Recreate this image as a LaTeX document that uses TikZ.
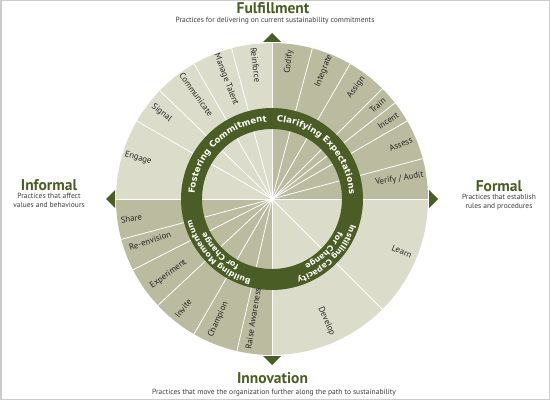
\documentclass[tikz,border=0pt]{standalone}
\usepackage{fontspec}
\setmainfont{PT Sans}
\newfontfamily\ringfont{DejaVu Sans}
\usetikzlibrary{decorations.text}

\definecolor{paleseg}{HTML}{DCDCCB}
\definecolor{darkseg}{HTML}{BBBBA0}
\definecolor{ringgreen}{HTML}{4A5D24}
\definecolor{subgray}{HTML}{3C3C3C}
\definecolor{framegray}{HTML}{CCCCCC}
\newcommand{\ringfmt}{\ringfont\bfseries\fontsize{8.6}{9}\selectfont}
\newcommand{\ringfmtsm}{\ringfont\bfseries\fontsize{7.8}{8}\selectfont}

\begin{document}
\begin{tikzpicture}[x=1pt,y=1pt]
        \tikzstyle{every node}+=[inner sep=0pt]
        \tikzstyle{seglabel}=[font=\fontsize{8.7}{10}\selectfont, text=black!85]
        \tikzstyle{spoke}=[white, line width=0.8pt]
        \tikzstyle{heading}=[font=\fontsize{15.5}{18}\selectfont\bfseries, text=ringgreen]
        \tikzstyle{subhead}=[font=\fontsize{7.5}{9}\selectfont, text=subgray, align=center]
        \tikzstyle{ringtext}=[decorate, decoration={text along path, text align=center, text color=white}]
        \useasboundingbox (0,0) rectangle (550,400);
        \draw [framegray, line width=1.5pt] (0.75,0.75) rectangle (549.25,399.25);
        % headings
        \node [heading] (fulfil) at (273,392) {Fulfillment};
        \node [subhead] (fulfilsub) at (275,379) {Practices for delivering on current sustainability commitments};
        \node [heading] (informal) at (49,215) {Informal};
        \node [subhead] (informalsub) at (49,200) {Practices that affect\\values and behaviours};
        \node [heading] (formal) at (499,214) {Formal};
        \node [subhead] (formalsub) at (499,198) {Practices that establish\\rules and procedures};
        \node [heading] (innov) at (272.5,22) {Innovation};
        \node [subhead] (innovsub) at (274,7) {Practices that move the organization further along the path to sustainability};
        \begin{scope}[shift={(272,201)}]
        % quadrants
        \fill [paleseg] (0,0) -- (90:156) arc [start angle=90, end angle=180, radius=156] -- cycle;
        \fill [darkseg] (0,0) -- (0:156) arc [start angle=0, end angle=90, radius=156] -- cycle;
        \fill [darkseg] (0,0) -- (180:156) arc [start angle=180, end angle=270, radius=156] -- cycle;
        \fill [paleseg] (0,0) -- (270:156) arc [start angle=270, end angle=360, radius=156] -- cycle;
        % dividers
        \draw [spoke] (0,0) -- (0:156);
        \draw [spoke] (0,0) -- (15:156);
        \draw [spoke] (0,0) -- (30:156);
        \draw [spoke] (0,0) -- (38:156);
        \draw [spoke] (0,0) -- (45:156);
        \draw [spoke] (0,0) -- (60:156);
        \draw [spoke] (0,0) -- (75:156);
        \draw [spoke] (0,0) -- (90:156);
        \draw [spoke] (0,0) -- (105:156);
        \draw [spoke] (0,0) -- (120:156);
        \draw [spoke] (0,0) -- (136:156);
        \draw [spoke] (0,0) -- (150:156);
        \draw [spoke] (0,0) -- (180:156);
        \draw [spoke] (0,0) -- (195:156);
        \draw [spoke] (0,0) -- (207:156);
        \draw [spoke] (0,0) -- (223:156);
        \draw [spoke] (0,0) -- (240:156);
        \draw [spoke] (0,0) -- (257:156);
        \draw [spoke] (0,0) -- (270:156);
        \draw [spoke] (0,0) -- (315:156);
        % ring
        \fill [ringgreen, even odd rule] (0,0) circle (91) (0,0) circle (70);
        \path [ringtext, decoration={text={|\ringfmt|Fostering Commitment}}] (180:77.5) arc [start angle=180, end angle=90, radius=77.5];
        \path [ringtext, decoration={text={|\ringfmt|Clarifying Expectations}}] (90:77.5) arc [start angle=90, end angle=0, radius=77.5];
        \path [ringtext, decoration={text={|\ringfmtsm|Instilling Capacity}}] (0:83) arc [start angle=0, end angle=-90, radius=83];
        \path [ringtext, decoration={text={|\ringfmtsm|for Change}}] (0:74) arc [start angle=0, end angle=-90, radius=74];
        \path [ringtext, decoration={text={|\ringfmtsm|Building Momentum}}] (270:83) arc [start angle=270, end angle=180, radius=83];
        \path [ringtext, decoration={text={|\ringfmtsm|for Change}}] (270:74) arc [start angle=270, end angle=180, radius=74];
        % pointers
        \fill [ringgreen] (-9,157) -- (0,166) -- (9,157) -- cycle;
        \fill [ringgreen] (-9,-157) -- (0,-166) -- (9,-157) -- cycle;
        \fill [ringgreen] (-157,-9) -- (-166,0) -- (-157,9) -- cycle;
        \fill [ringgreen] (157,-9) -- (166,0) -- (157,9) -- cycle;
        % practices
        \node [seglabel, rotate=-17] (engage) at (163:140) {Engage};
        \node [seglabel, rotate=-38] (signal) at (142:140) {Signal};
        \node [seglabel, rotate=-54] (communicate) at (126:129) {Communicate};
        \node [seglabel, rotate=-69] (talent) at (111:128) {Manage Talent};
        \node [seglabel, rotate=-83] (reinforce) at (97:135) {Reinforce};
        \node [seglabel, rotate=83] (codify) at (83:138) {Codify};
        \node [seglabel, rotate=68] (integrate) at (68:138) {Integrate};
        \node [seglabel, rotate=53] (assign) at (53:140) {Assign};
        \node [seglabel, rotate=41.5] (train) at (41.5:141) {Train};
        \node [seglabel, rotate=34] (incent) at (34:140) {Incent};
        \node [seglabel, rotate=23] (assess) at (23:140) {Assess};
        \node [seglabel, rotate=9] (verify) at (9:129) {Verify / Audit};
        \node [seglabel, rotate=-22] (learn) at (-22:140) {Learn};
        \node [seglabel, rotate=-66] (develop) at (-66:134) {Develop};
        \node [seglabel, rotate=81] (raise) at (261:121) {Raise Awareness};
        \node [seglabel, rotate=66] (champion) at (246:132) {Champion};
        \node [seglabel, rotate=51] (invite) at (231:141) {Invite};
        \node [seglabel, rotate=36] (experiment) at (216:128) {Experiment};
        \node [seglabel, rotate=19] (reenvision) at (199:129) {Re-envision};
        \node [seglabel, rotate=8] (share) at (188:142) {Share};
        \end{scope}
\end{tikzpicture}
\end{document}
